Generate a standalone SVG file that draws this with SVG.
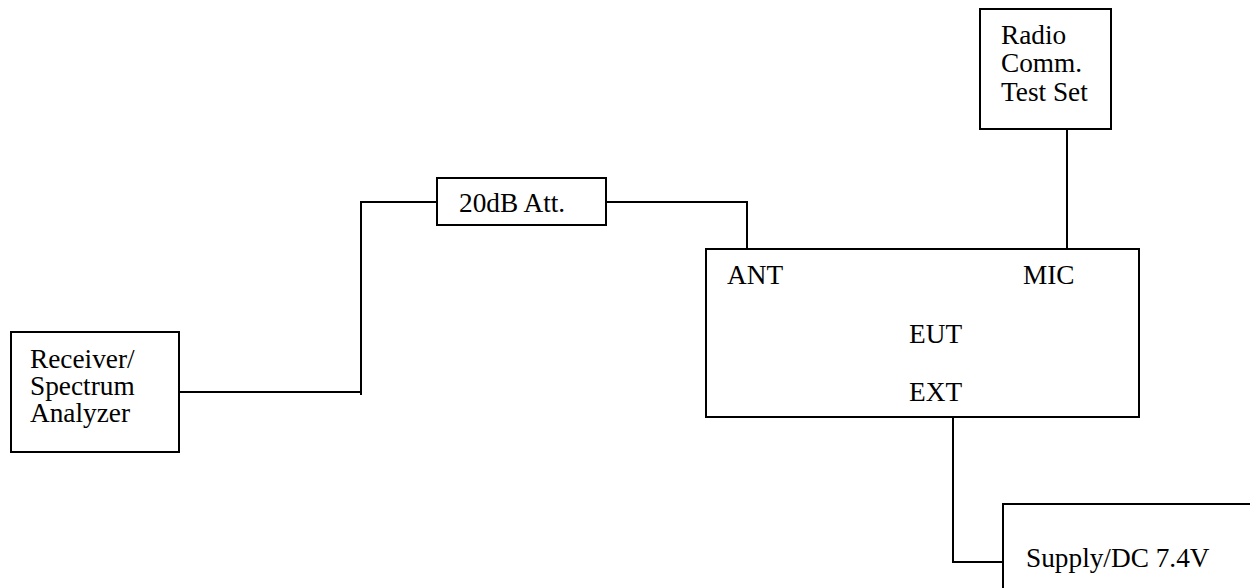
<svg xmlns="http://www.w3.org/2000/svg" width="1250" height="588" viewBox="0 0 1250 588">
<style>
.box{fill:#fff;stroke:#000;stroke-width:2}
.ln{fill:none;stroke:#000;stroke-width:2}
text{font-family:"Liberation Serif","Times New Roman",serif;font-size:27.3px;fill:#000}
</style>
<rect width="1250" height="588" fill="#fff"/>
<g id="connectors">
<polyline class="ln" points="179,392 361,392"/>
<polyline class="ln" points="361,395 361,202 437,202"/>
<polyline class="ln" points="606,202 747,202 747,249"/>
<line class="ln" x1="1067" y1="129" x2="1067" y2="249"/>
<polyline class="ln" points="953,417 953,562 1003,562"/>
</g>
<g id="receiver">
<rect class="box" x="11" y="332" width="168" height="120"/>
<text x="30" y="368">Receiver/</text>
<text x="30" y="395">Spectrum</text>
<text x="30" y="422">Analyzer</text>
</g>
<g id="attenuator">
<rect class="box" x="437" y="178" width="169" height="47"/>
<text x="459" y="212">20dB Att.</text>
</g>
<g id="eut">
<rect class="box" x="706" y="249" width="433" height="168"/>
<text x="727" y="284">ANT</text>
<text x="1023" y="284">MIC</text>
<text x="909" y="343">EUT</text>
<text x="909" y="401">EXT</text>
</g>
<g id="radio">
<rect class="box" x="980" y="9" width="131" height="120"/>
<text x="1001" y="44">Radio</text>
<text x="1001" y="72">Comm.</text>
<text x="1001" y="101">Test Set</text>
</g>
<g id="supply">
<rect class="box" x="1003" y="504" width="260" height="100"/>
<text x="1026" y="567">Supply/DC 7.4V</text>
</g>
</svg>
